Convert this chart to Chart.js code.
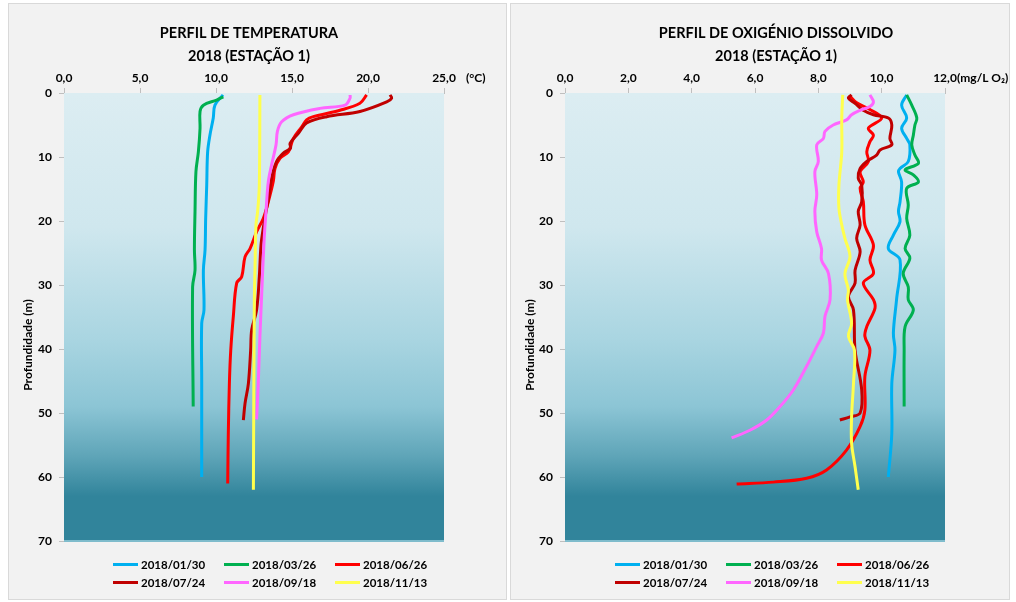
<!DOCTYPE html>
<html>
<head>
<meta charset="utf-8">
<script src="https://cdn.jsdelivr.net/npm/chart.js@4"></script>
<style>
  body { margin: 0; background: #fff; width: 1016px; height: 602px; position: relative; overflow: hidden; }
  .panel { position: absolute; top: 3px; height: 595px; border: 1px solid #d9d9d9; background: #f2f2f2; }
  .panel canvas { position: absolute; left: 0; top: 0; }
  .leg { position: absolute; height: 16px; display: flex; align-items: center;
         font: bold 11.5px Lato, "Open Sans", sans-serif; color: #000; white-space: nowrap; }
  .leg span.sw { display: inline-block; width: 25px; height: 3px; margin-right: 3px; }
</style>
</head>
<body>
<div class="panel" id="p1" style="left:8px;width:497px;"><canvas id="c1" width="497" height="595"></canvas></div>
<div class="panel" id="p2" style="left:510px;width:498px;"><canvas id="c2" width="498" height="595"></canvas></div>
<script>
// datas das campanhas
const dates = ['2018/01/30', '2018/03/26', '2018/06/26', '2018/07/24', '2018/09/18', '2018/11/13'];
const colors = ['#00b0f0', '#00b050', '#ff0000', '#c00000', '#ff66ff', '#ffff4d'];

// eixos
const depthTicks = [0, 10, 20, 30, 40, 50, 60, 70];
const tempTicks = [0, 5, 10, 15, 20, 25];
const oxyTicks = [0, 2, 4, 6, 8, 10, 12];

// temperatura (°C) - profundidade (m)
const tDepth0130 = [0.3, 1.9, 3.9, 6.6, 9.2, 14.4, 19.6, 24.5, 27.7, 33.9, 36, 45, 60];
const tVal0130 = [10.46, 9.93, 9.82, 9.6, 9.45, 9.39, 9.32, 9.28, 9.17, 9.21, 9.06, 9.06, 9.06];
const tDepth0326 = [0.6, 1.1, 1.9, 2.9, 5.5, 9.2, 12.3, 18.5, 24.5, 27.7, 30.3, 49];
const tVal0326 = [10.48, 10.04, 9.17, 8.95, 8.95, 8.84, 8.68, 8.62, 8.58, 8.62, 8.46, 8.5];
const tDepth0626 = [0.3, 1.6, 2.7, 3.7, 4.2, 5.3, 7.1, 9.2, 10.2, 11.8, 13.8, 17, 19.6, 21.7, 24.3, 25.6, 28.7, 29.7, 34.9, 40.2, 45.4, 53.2, 61];
const tVal0626 = [19.91, 19.47, 18.16, 16.4, 15.96, 15.64, 15.09, 14.76, 14.21, 13.88, 13.77, 13.44, 13.11, 12.67, 12.24, 11.91, 11.69, 11.36, 11.14, 10.97, 10.88, 10.81, 10.77];
const tDepth0724 = [0.3, 0.8, 1.4, 2.9, 3.7, 4.7, 6.3, 7.9, 8.6, 9.4, 10.7, 13.3, 15.9, 18, 21.1, 23.8, 28.7, 33.9, 37, 40.2, 45.4, 48.5, 51.1];
const tVal0724 = [21.45, 21.56, 21.23, 19.47, 17.28, 15.96, 15.42, 14.87, 14.91, 14.43, 13.99, 13.66, 13.5, 13.33, 13.11, 12.96, 12.85, 12.67, 12.35, 12.28, 12.13, 11.91, 11.8];
const tDepth0918 = [0.3, 0.8, 1.9, 2.4, 3.4, 4.5, 6.0, 8.1, 11.2, 13.9, 18.5, 23.2, 31.8, 38, 45.4, 51];
const tVal0918 = [18.82, 18.82, 18.49, 16.84, 15.09, 14.32, 14.04, 13.95, 13.66, 13.44, 13.29, 13.16, 13.0, 12.89, 12.78, 12.67];
const tDepth1113 = [0.3, 14.4, 18.5, 20.6, 26.9, 32.8, 62];
const tVal1113 = [12.89, 12.85, 12.74, 12.63, 12.57, 12.52, 12.46];

// oxigénio dissolvido (mg/L O2) - profundidade (m)
const oDepth0130 = [0.3, 1.9, 3.9, 5.5, 7.1, 8.1, 10.7, 11.8, 12.3, 13.9, 17, 18.5, 20.1, 22.2, 24.3, 26.1, 32.3, 37.5, 40.2, 45.4, 53.2, 60];
const oVal0130 = [10.79, 10.63, 10.79, 10.63, 10.79, 10.89, 10.84, 10.58, 10.53, 10.63, 10.58, 10.53, 10.58, 10.37, 10.21, 10.58, 10.47, 10.37, 10.42, 10.32, 10.32, 10.21];
const oDepth0326 = [0.3, 1.9, 3.9, 5.0, 6.6, 8.1, 9.7, 11, 12, 12.8, 13.9, 14.9, 17.5, 19.6, 22.2, 24.3, 25.8, 28.2, 30.3, 32.3, 33.9, 36.5, 40.2, 49];
const oVal0326 = [10.79, 10.95, 11.11, 11.05, 11.0, 10.95, 11.05, 11.16, 10.74, 11.0, 11.16, 10.79, 10.84, 10.79, 10.89, 10.74, 10.89, 10.68, 10.84, 10.84, 11.0, 10.74, 10.71, 10.71];
const oDepth0626 = [0.5, 1.5, 2.5, 3.9, 5.5, 6.6, 7.6, 9.2, 10.7, 12.3, 13.9, 14.9, 17, 20.6, 23.8, 26.1, 28.2, 29.7, 32.3, 33.6, 36.5, 38, 40.2, 44.3, 49.5, 52.1, 55.8, 58.9, 60.2, 60.8, 61.1];
const oVal0626 = [9.0, 9.2, 9.6, 10.0, 9.58, 9.74, 9.63, 9.53, 9.58, 9.32, 9.42, 9.32, 9.42, 9.47, 9.74, 9.63, 9.74, 9.42, 9.74, 9.79, 9.53, 9.47, 9.63, 9.47, 9.47, 9.32, 8.89, 8.26, 7.63, 6.58, 5.42];
const oDepth0724 = [0.3, 0.8, 1.6, 2.7, 3.4, 3.9, 5.0, 7.1, 8.1, 8.9, 9.7, 10.7, 11.8, 13.3, 14.4, 17, 18.5, 20.6, 22.7, 24.8, 27.7, 29.7, 31.8, 33.9, 40.2, 46.4, 50, 50.6, 51.1];
const oVal0724 = [9.05, 8.95, 9.16, 9.42, 9.74, 10.21, 10.32, 10.26, 10.32, 9.95, 9.84, 9.53, 9.32, 9.26, 9.37, 9.37, 9.26, 9.32, 9.21, 9.32, 9.16, 9.16, 8.95, 9.11, 9.16, 9.37, 9.32, 9.0, 8.68];
const oDepth0918 = [0.3, 1.4, 2.1, 2.7, 3.4, 4.2, 5.0, 6.0, 7.1, 8.1, 10.7, 12.3, 15.9, 18.5, 21.7, 24.3, 26.1, 28.2, 32.3, 34.9, 37.5, 39.6, 42.7, 46.4, 49, 51.1, 52.7, 53.9];
const oVal0918 = [9.63, 9.74, 9.63, 9.32, 9.05, 8.89, 8.47, 8.21, 8.16, 7.95, 8.0, 7.89, 7.95, 7.89, 7.95, 8.1, 8.1, 8.32, 8.37, 8.21, 8.16, 7.95, 7.63, 7.21, 6.79, 6.37, 5.84, 5.26];
const oDepth1113 = [0.3, 3.9, 9.2, 14.4, 18, 20.6, 22.7, 25.6, 28.2, 30.8, 32.3, 36, 38, 40.2, 45.4, 50.6, 54.7, 58.4, 62];
const oVal1113 = [8.77, 8.74, 8.74, 8.65, 8.65, 8.74, 8.84, 9.0, 8.84, 8.95, 8.92, 9.05, 8.95, 9.14, 9.11, 9.05, 9.05, 9.16, 9.26];

const FONT = 'Lato, "Open Sans", sans-serif';
Chart.defaults.font.family = FONT;
Chart.defaults.font.weight = 'bold';
Chart.defaults.color = '#000';

function makeSets(depths, vals) {
  return dates.map((d, i) => ({
    label: d,
    data: depths[i].map((y, k) => ({ x: vals[i][k], y: y })),
    borderColor: colors[i],
    backgroundColor: colors[i],
    borderWidth: 3,
    pointRadius: 0,
    showLine: true,
    tension: 0.35,
    order: dates.length - i, // a última campanha fica por cima
  }));
}

// fundo em degradê + títulos + unidade
const decor = {
  id: 'decor',
  beforeDatasetsDraw(chart) {
    const { ctx, chartArea: a } = chart;
    const g = ctx.createLinearGradient(0, a.top, 0, a.bottom);
    g.addColorStop(0, '#dcedf2');
    g.addColorStop(0.3, '#cfe7ee');
    g.addColorStop(0.55, '#a9d5e1');
    g.addColorStop(0.7, '#8cc5d5');
    g.addColorStop(0.81, '#5fa5b8');
    g.addColorStop(0.9, '#31849b');
    g.addColorStop(1, '#31849b');
    ctx.save();
    ctx.fillStyle = g;
    ctx.fillRect(a.left, a.top, a.right - a.left, a.bottom - a.top);
    ctx.fillStyle = '#7fbccc';
    ctx.fillRect(a.left, a.bottom - 1, a.right - a.left, 2);
    ctx.restore();
  },
  afterDraw(chart, args, opts) {
    const { ctx } = chart;
    ctx.save();
    ctx.fillStyle = '#000';
    ctx.textAlign = 'center';
    ctx.textBaseline = 'middle';
    ctx.font = 'bold 14.5px ' + FONT;
    ctx.fillText(opts.title[0], opts.titleX, 29);
    ctx.fillText(opts.title[1], opts.titleX, 52);
    ctx.font = 'bold 12px ' + FONT;
    ctx.textAlign = 'left';
    ctx.fillText(opts.unit, opts.unitX, 74);
    ctx.translate(19, 341);
    ctx.rotate(-Math.PI / 2);
    ctx.textAlign = 'center';
    ctx.fillText('Profundidade (m)', 0, 0);
    ctx.restore();
  }
};

function buildChart(id, sets, xTicks, xMax, leftW, padRight, opts) {
  const grid = { drawOnChartArea: false, drawTicks: true, tickLength: 5, color: '#bfbfbf' };
  return new Chart(document.getElementById(id), {
    type: 'scatter',
    data: { datasets: sets },
    options: {
      responsive: false,
      animation: false,
      layout: { padding: { top: 64, right: padRight, bottom: 58, left: 0 } },
      plugins: {
        legend: { display: false },
        tooltip: { enabled: false },
        decor: opts,
      },
      scales: {
        x: {
          type: 'linear',
          position: 'top',
          min: 0,
          max: xMax,
          afterBuildTicks: (s) => { s.ticks = xTicks.map(v => ({ value: v })); },
          afterFit: (s) => { s.height = 25; },
          grid: grid,
          border: { color: '#bfbfbf' },
          ticks: {
            padding: 3,
            font: { size: 12, weight: 'bold' },
            callback: (v) => v.toFixed(1).replace('.', ','),
          },
        },
        y: {
          type: 'linear',
          reverse: true,
          min: 0,
          max: 70,
          afterBuildTicks: (s) => { s.ticks = depthTicks.map(v => ({ value: v })); },
          afterFit: (s) => { s.width = leftW; },
          grid: grid,
          border: { color: '#bfbfbf' },
          ticks: { padding: 7, font: { size: 12, weight: 'bold' } },
        },
      },
    },
    plugins: [decor],
  });
}

const tempDepths = [tDepth0130, tDepth0326, tDepth0626, tDepth0724, tDepth0918, tDepth1113];
const tempVals = [tVal0130, tVal0326, tVal0626, tVal0724, tVal0918, tVal1113];
const oxyDepths = [oDepth0130, oDepth0326, oDepth0626, oDepth0724, oDepth0918, oDepth1113];
const oxyVals = [oVal0130, oVal0326, oVal0626, oVal0724, oVal0918, oVal1113];

buildChart('c1', makeSets(tempDepths, tempVals), tempTicks, 25, 55, 62,
  { title: ['PERFIL DE TEMPERATURA', '2018 (ESTAÇÃO 1)'], titleX: 240, unit: '(°C)', unitX: 457 });
buildChart('c2', makeSets(oxyDepths, oxyVals), oxyTicks, 12, 54, 64,
  { title: ['PERFIL DE OXIGÉNIO DISSOLVIDO', '2018 (ESTAÇÃO 1)'], titleX: 265, unit: '(mg/L O₂)', unitX: 446 });

// legendas (3 colunas x 2 linhas)
['p1', 'p2'].forEach((pid) => {
  const panel = document.getElementById(pid);
  dates.forEach((d, i) => {
    const el = document.createElement('div');
    el.className = 'leg';
    el.style.left = (104 + (i % 3) * 111) + 'px';
    el.style.top = (552 + Math.floor(i / 3) * 18) + 'px';
    el.innerHTML = '<span class="sw" style="background:' + colors[i] + '"></span>' + d;
    panel.appendChild(el);
  });
});
</script>
</body>
</html>
